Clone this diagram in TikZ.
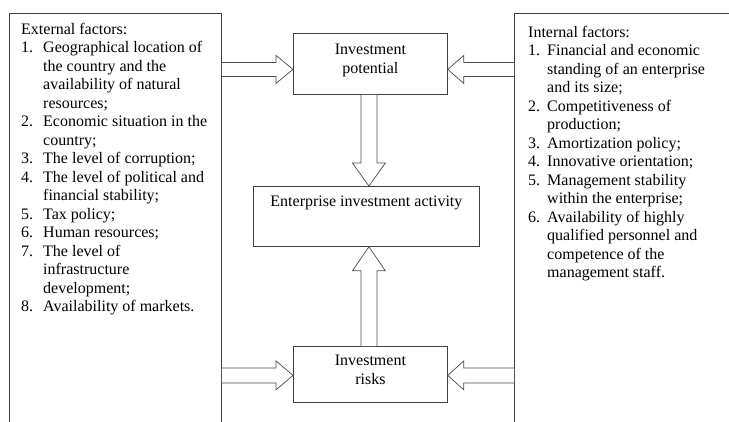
\documentclass[tikz,border=0pt]{standalone}
\usepackage{fontspec}
\setmainfont{Liberation Serif}
\newfontfamily\tnr{Liberation Serif}
\usetikzlibrary{calc}
\newlength{\indA}\setlength{\indA}{22pt}
\newlength{\indB}\setlength{\indB}{19pt}
\newcommand{\na}[1]{\makebox[\indA][l]{#1}}
\newcommand{\ca}{\hspace*{\indA}}
\newcommand{\nb}[1]{\makebox[\indB][l]{#1}}
\newcommand{\cb}{\hspace*{\indB}}
\begin{document}
\begin{tikzpicture}[x=1pt,y=-1pt,
  ln/.style={draw=black!75, line width=0.8pt},
  boxn/.style={ln, rectangle, inner sep=0pt, anchor=north west},
  txt/.style={font=\tnr\fontsize{16}{18.5}\selectfont, inner sep=0pt},
  barrow/.style={draw=black!70, line width=0.7pt, fill=white, line join=miter}]
\useasboundingbox (0,0) rectangle (729,421);
% frames
\node[boxn, minimum width=212, minimum height=430] (ext) at (9,13) {};
\node[boxn, minimum width=240, minimum height=430] (int) at (514,13) {};
\node[boxn, minimum width=154, minimum height=61] (pot) at (293,33) {};
\node[boxn, minimum width=226, minimum height=60] (act) at (253,186) {};
\node[boxn, minimum width=154, minimum height=56] (risk) at (293,346) {};
% texts
\node[txt, anchor=north west, align=left] (exttxt) at ($(ext.north west)+(12,10)$) {%
External factors:\\
\na{1.}Geographical location of\\
\ca the country and the\\
\ca availability of natural\\
\ca resources;\\
\na{2.}Economic situation in the\\
\ca country;\\
\na{3.}The level of corruption;\\
\na{4.}The level of political and\\
\ca financial stability;\\
\na{5.}Tax policy;\\
\na{6.}Human resources;\\
\na{7.}The level of\\
\ca infrastructure\\
\ca development;\\
\na{8.}Availability of markets.};
\node[txt, anchor=north west, align=left] (inttxt) at ($(int.north west)+(14,13)$) {%
Internal factors:\\
\nb{1.}Financial and economic\\
\cb standing of an enterprise\\
\cb and its size;\\
\nb{2.}Competitiveness of\\
\cb production;\\
\nb{3.}Amortization policy;\\
\nb{4.}Innovative orientation;\\
\nb{5.}Management stability\\
\cb within the enterprise;\\
\nb{6.}Availability of highly\\
\cb qualified personnel and\\
\cb competence of the\\
\cb management staff.};
\node[txt, anchor=north, align=center] (pottxt) at ($(pot.north)+(0,11)$) {Investment\\potential};
\node[txt, anchor=north] (acttxt) at ($(act.north)+(0,10)$) {Enterprise investment activity};
\node[txt, anchor=north, align=center] (risktxt) at ($(risk.north)+(0,9)$) {Investment\\risks};
% arrow anchor points
\coordinate (t1) at ($(pot.west)+(0,5.5)$);
\coordinate (s1) at (ext.east |- t1);
\coordinate (t2) at ($(pot.east)+(0,5.5)$);
\coordinate (s2) at (int.west |- t2);
\coordinate (t3) at ($(risk.west)+(0,1)$);
\coordinate (s3) at (ext.east |- t3);
\coordinate (t4) at ($(risk.east)+(0,1)$);
\coordinate (s4) at (int.west |- t4);
\coordinate (t5) at ($(act.north)+(2.5,0)$);
\coordinate (s5) at (t5 |- pot.south);
\coordinate (t6) at ($(act.south)+(2.5,0)$);
\coordinate (s6) at (t6 |- risk.north);
% horizontal block arrows
\draw[barrow] ($(s1)+(0,-7)$) -- ($(t1)+(-17,-7)$) -- ($(t1)+(-17,-14)$) -- (t1) -- ($(t1)+(-17,14)$) -- ($(t1)+(-17,7)$) -- ($(s1)+(0,7)$);
\draw[barrow] ($(s2)+(0,-7)$) -- ($(t2)+(16,-7)$) -- ($(t2)+(16,-14)$) -- (t2) -- ($(t2)+(16,14)$) -- ($(t2)+(16,7)$) -- ($(s2)+(0,7)$);
\draw[barrow] ($(s3)+(0,-7.5)$) -- ($(t3)+(-17,-7.5)$) -- ($(t3)+(-17,-14.5)$) -- (t3) -- ($(t3)+(-17,14.5)$) -- ($(t3)+(-17,7.5)$) -- ($(s3)+(0,7.5)$);
\draw[barrow] ($(s4)+(0,-7.5)$) -- ($(t4)+(16,-7.5)$) -- ($(t4)+(16,-14.5)$) -- (t4) -- ($(t4)+(16,14.5)$) -- ($(t4)+(16,7.5)$) -- ($(s4)+(0,7.5)$);
% vertical block arrows
\draw[barrow] ($(s5)+(-8,0)$) -- ($(t5)+(-8,-23)$) -- ($(t5)+(-16.5,-23)$) -- (t5) -- ($(t5)+(16.5,-23)$) -- ($(t5)+(8,-23)$) -- ($(s5)+(8,0)$);
\draw[barrow] ($(s6)+(-8,0)$) -- ($(t6)+(-8,24)$) -- ($(t6)+(-16.5,24)$) -- (t6) -- ($(t6)+(16.5,24)$) -- ($(t6)+(8,24)$) -- ($(s6)+(8,0)$);
\end{tikzpicture}
\end{document}
